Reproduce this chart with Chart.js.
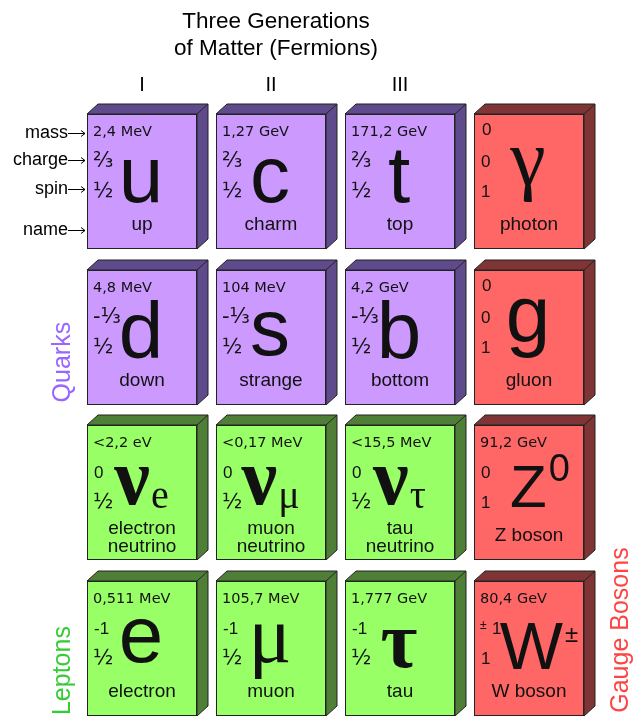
<!DOCTYPE html>
<html lang="en">
<head>
    <meta charset="UTF-8">
    <title>Three Generations of Matter (Fermions)</title>
    <style>
        html, body {
            margin: 0;
            padding: 0;
            background: #fff;
        }
        #wrap {
            width: 633px;
            height: 717px;
        }
    </style>
</head>
<body>
    <div id="wrap"><canvas id="chart" width="633" height="717"></canvas></div>

    <script src="https://cdn.jsdelivr.net/npm/chart.js@4.4.0/dist/chart.umd.min.js"></script>
    <script>
    // Particles, read row by row from the table (column = generation, row = place in table)
    const generations = ['I', 'II', 'III'];
    const symbols      = ['u', 'c', 't', 'γ', 'd', 's', 'b', 'g', 'ν', 'ν', 'ν', 'Z', 'e', 'μ', 'τ', 'W'];
    const subscripts   = ['', '', '', '', '', '', '', '', 'e', 'μ', 'τ', '', '', '', '', ''];
    const superscripts = ['', '', '', '', '', '', '', '', '', '', '', '0', '', '', '', '±'];
    const masses  = ['2,4 MeV', '1,27 GeV', '171,2 GeV', '0',
                     '4,8 MeV', '104 MeV', '4,2 GeV', '0',
                     '<2,2 eV', '<0,17 MeV', '<15,5 MeV', '91,2 GeV',
                     '0,511 MeV', '105,7 MeV', '1,777 GeV', '80,4 GeV'];
    const charges = ['⅔', '⅔', '⅔', '0', '-⅓', '-⅓', '-⅓', '0', '0', '0', '0', '0', '-1', '-1', '-1', '±1'];
    const spins   = ['½', '½', '½', '1', '½', '½', '½', '1', '½', '½', '½', '1', '½', '½', '½', '1'];
    const names   = ['up', 'charm', 'top', 'photon',
                     'down', 'strange', 'bottom', 'gluon',
                     'electron\nneutrino', 'muon\nneutrino', 'tau\nneutrino', 'Z boson',
                     'electron', 'muon', 'tau', 'W boson'];
    const columns = [0, 1, 2, 3, 0, 1, 2, 3, 0, 1, 2, 3, 0, 1, 2, 3];
    const rows    = [0, 0, 0, 0, 1, 1, 1, 1, 2, 2, 2, 2, 3, 3, 3, 3];
    const familyOf = [0, 0, 0, 2, 0, 0, 0, 2, 1, 1, 1, 2, 1, 1, 1, 2];
    const familyNames = ['Quarks', 'Leptons', 'Gauge Bosons'];
    const rowLabels = ['mass', 'charge', 'spin', 'name'];

    const faceColors  = ['#cc99ff', '#99ff66', '#ff6666'];
    const sideColors  = ['#5f4b8b', '#4f7f37', '#7f3535'];
    const labelColors = ['#9966ff', '#33cc33', '#ff4444'];

    const SANS = '"Liberation Sans", Arial, sans-serif';
    const SERIF = '"Liberation Serif", "Times New Roman", serif';
    const DEJAVU = '"DejaVu Sans", Verdana, sans-serif';

    const BOX_W = 110, BOX_H = 135, DX = 11, DY = 10;

    // big letter tweaks: font, baseline offset from box top, x shift
    function glyphStyle(sym) {
        const greek = 'γνμτ'.includes(sym);
        const heavy = 'ντ'.includes(sym) ? 'bold ' : '';
        const size = { 'Z': 60, 'W': 67 }[sym] || 80;
        const font = heavy + size + 'px ' + (greek ? SERIF : SANS);
        const base = { 'γ': 71, 'g': 71, 'e': 81, 's': 85, 'μ': 81, 'τ': 86, 'ν': 79, 'Z': 82, 'W': 88 };
        const shift = { 'Z': 11, 'W': 10 }[sym] || 0;
        return { font: font, y: base[sym] || 88, dx: shift };
    }

    function drawBox(ctx, x0, y0, face, side) {
        ctx.lineWidth = 1;
        ctx.strokeStyle = '#222';
        ctx.fillStyle = side;
        ctx.beginPath();
        ctx.moveTo(x0, y0);
        ctx.lineTo(x0 + DX, y0 - DY);
        ctx.lineTo(x0 + BOX_W + DX, y0 - DY);
        ctx.lineTo(x0 + BOX_W + DX, y0 + BOX_H - DY);
        ctx.lineTo(x0 + BOX_W, y0 + BOX_H);
        ctx.lineTo(x0 + BOX_W, y0);
        ctx.closePath();
        ctx.fill();
        ctx.stroke();
        ctx.beginPath();
        ctx.moveTo(x0 + BOX_W, y0);
        ctx.lineTo(x0 + BOX_W + DX, y0 - DY);
        ctx.stroke();
        ctx.fillStyle = face;
        ctx.fillRect(x0, y0, BOX_W, BOX_H);
        ctx.strokeRect(x0 + 0.5, y0 + 0.5, BOX_W - 1, BOX_H - 1);
    }

    function smallText(ctx, txt, x, y) {
        ctx.textAlign = 'left';
        ctx.textBaseline = 'middle';
        if (txt === '±1') {
            ctx.font = '12px ' + SANS;
            ctx.fillText('±', x, y - 3);
            ctx.font = '17px ' + SANS;
            ctx.fillText('1', x + 12, y);
        } else if (/[½⅓⅔]/.test(txt)) {
            ctx.font = '21px ' + DEJAVU;
            ctx.fillText(txt, x, y);
        } else {
            ctx.font = '17px ' + SANS;
            ctx.fillText(txt, x + 1, y);
        }
    }

    function drawParticle(ctx, k, x0, y0) {
        ctx.fillStyle = '#111';
        // mass
        ctx.textAlign = 'left';
        ctx.textBaseline = 'middle';
        if (masses[k] === '0') {
            ctx.font = '17px ' + SANS;
            ctx.fillText('0', x0 + 8, y0 + 16);
        } else {
            ctx.font = '14.5px ' + DEJAVU;
            ctx.fillText(masses[k], x0 + 6, y0 + 18);
        }
        smallText(ctx, charges[k], x0 + 6, y0 + 48);
        smallText(ctx, spins[k], x0 + 6, y0 + 78);

        // symbol, with sub- or superscript
        const g = glyphStyle(symbols[k]);
        ctx.textBaseline = 'alphabetic';
        ctx.textAlign = 'left';
        ctx.font = g.font;
        const w1 = ctx.measureText(symbols[k]).width;
        let w2 = 0, subFont = '', supFont = '';
        if (subscripts[k]) {
            subFont = '40px ' + SERIF;
            ctx.font = subFont;
            w2 = ctx.measureText(subscripts[k]).width;
        } else if (superscripts[k]) {
            supFont = (superscripts[k] === '0' ? '38px ' : '24px ') + SANS;
            ctx.font = supFont;
            w2 = ctx.measureText(superscripts[k]).width;
        }
        const cx = x0 + BOX_W / 2 - 1 + g.dx;
        const sx = cx - (w1 + w2) / 2;
        ctx.font = g.font;
        ctx.fillText(symbols[k], sx, y0 + g.y);
        if (subscripts[k]) {
            ctx.font = subFont;
            ctx.fillText(subscripts[k], sx + w1 + 1, y0 + 83);
        } else if (superscripts[k]) {
            ctx.font = supFont;
            const sy = superscripts[k] === '0' ? y0 + 56 : y0 + 61;
            ctx.fillText(superscripts[k], sx + w1 + 2, sy);
        }

        // name
        ctx.font = '19px ' + SANS;
        ctx.textAlign = 'center';
        ctx.textBaseline = 'middle';
        const lines = names[k].split('\n');
        if (lines.length === 2) {
            ctx.fillText(lines[0], x0 + BOX_W / 2, y0 + 104);
            ctx.fillText(lines[1], x0 + BOX_W / 2, y0 + 122);
        } else {
            ctx.fillText(lines[0], x0 + BOX_W / 2, y0 + 111);
        }
    }

    const particleBoxes = {
        id: 'particleBoxes',
        afterDatasetsDraw(chart) {
            const ctx = chart.ctx;
            const xs = chart.scales.x, ys = chart.scales.y;
            ctx.save();

            chart.data.datasets.forEach((ds, i) => {
                const meta = chart.getDatasetMeta(i);
                meta.data.forEach((pt, j) => {
                    const k = ds.data[j].k;
                    const x0 = Math.round(pt.x - BOX_W / 2);
                    const y0 = Math.round(pt.y - BOX_H / 2);
                    drawBox(ctx, x0, y0, ds.backgroundColor, ds.borderColor);
                    drawParticle(ctx, k, x0, y0);
                });
            });

            // title and generation numerals
            ctx.fillStyle = '#000';
            ctx.textAlign = 'center';
            ctx.textBaseline = 'alphabetic';
            ctx.font = '22.5px ' + SANS;
            ctx.fillText('Three Generations', 276, 28);
            ctx.fillText('of Matter (Fermions)', 276, 55);
            ctx.font = '20px ' + SANS;
            generations.forEach((g, c) => {
                ctx.fillText(g, xs.getPixelForValue(c), 91);
            });

            // row legend with arrows, next to the first box
            const left = Math.round(xs.getPixelForValue(0) - BOX_W / 2);
            const top = Math.round(ys.getPixelForValue(0) - BOX_H / 2);
            const offs = [19, 46, 75, 116];
            ctx.font = '18px ' + SANS;
            ctx.textAlign = 'right';
            ctx.textBaseline = 'middle';
            ctx.strokeStyle = '#000';
            ctx.lineWidth = 1;
            rowLabels.forEach((lab, i) => {
                const y = top + offs[i];
                ctx.fillText(lab, left - 19, y);
                ctx.beginPath();
                ctx.moveTo(left - 19, y + 0.5);
                ctx.lineTo(left - 2, y + 0.5);
                ctx.moveTo(left - 6, y - 2.5);
                ctx.lineTo(left - 2, y + 0.5);
                ctx.lineTo(left - 6, y + 3.5);
                ctx.stroke();
            });

            // family labels, written upwards
            const famPos = [[-0.613, 1.16], [-0.613, 3.14], [3.712, 2.88]];
            ctx.font = '25px ' + SANS;
            ctx.textAlign = 'center';
            ctx.textBaseline = 'middle';
            familyNames.forEach((f, i) => {
                ctx.save();
                ctx.translate(xs.getPixelForValue(famPos[i][0]), ys.getPixelForValue(famPos[i][1]));
                ctx.rotate(-Math.PI / 2);
                ctx.fillStyle = labelColors[i];
                ctx.fillText(f, 0, 0);
                ctx.restore();
            });
            ctx.restore();
        }
    };

    const datasets = familyNames.map((f, i) => ({
        label: f,
        data: symbols.map((s, k) => ({ x: columns[k], y: rows[k], k: k })).filter(p => familyOf[p.k] === i),
        backgroundColor: faceColors[i],
        borderColor: sideColors[i],
        pointRadius: 0,
        pointHoverRadius: 0
    }));

    new Chart(document.getElementById('chart').getContext('2d'), {
        type: 'scatter',
        data: { datasets: datasets },
        plugins: [particleBoxes],
        options: {
            responsive: false,
            animation: false,
            events: [],
            layout: { padding: { left: 77.5, right: 39.5, top: 103.5, bottom: 0 } },
            scales: {
                x: { type: 'linear', min: -0.5, max: 3.5, display: false },
                y: { type: 'linear', min: -0.5, max: 3.438, reverse: true, display: false }
            },
            plugins: {
                legend: { display: false },
                tooltip: { enabled: false },
                title: { display: false }
            }
        }
    });
    </script>
</body>
</html>
